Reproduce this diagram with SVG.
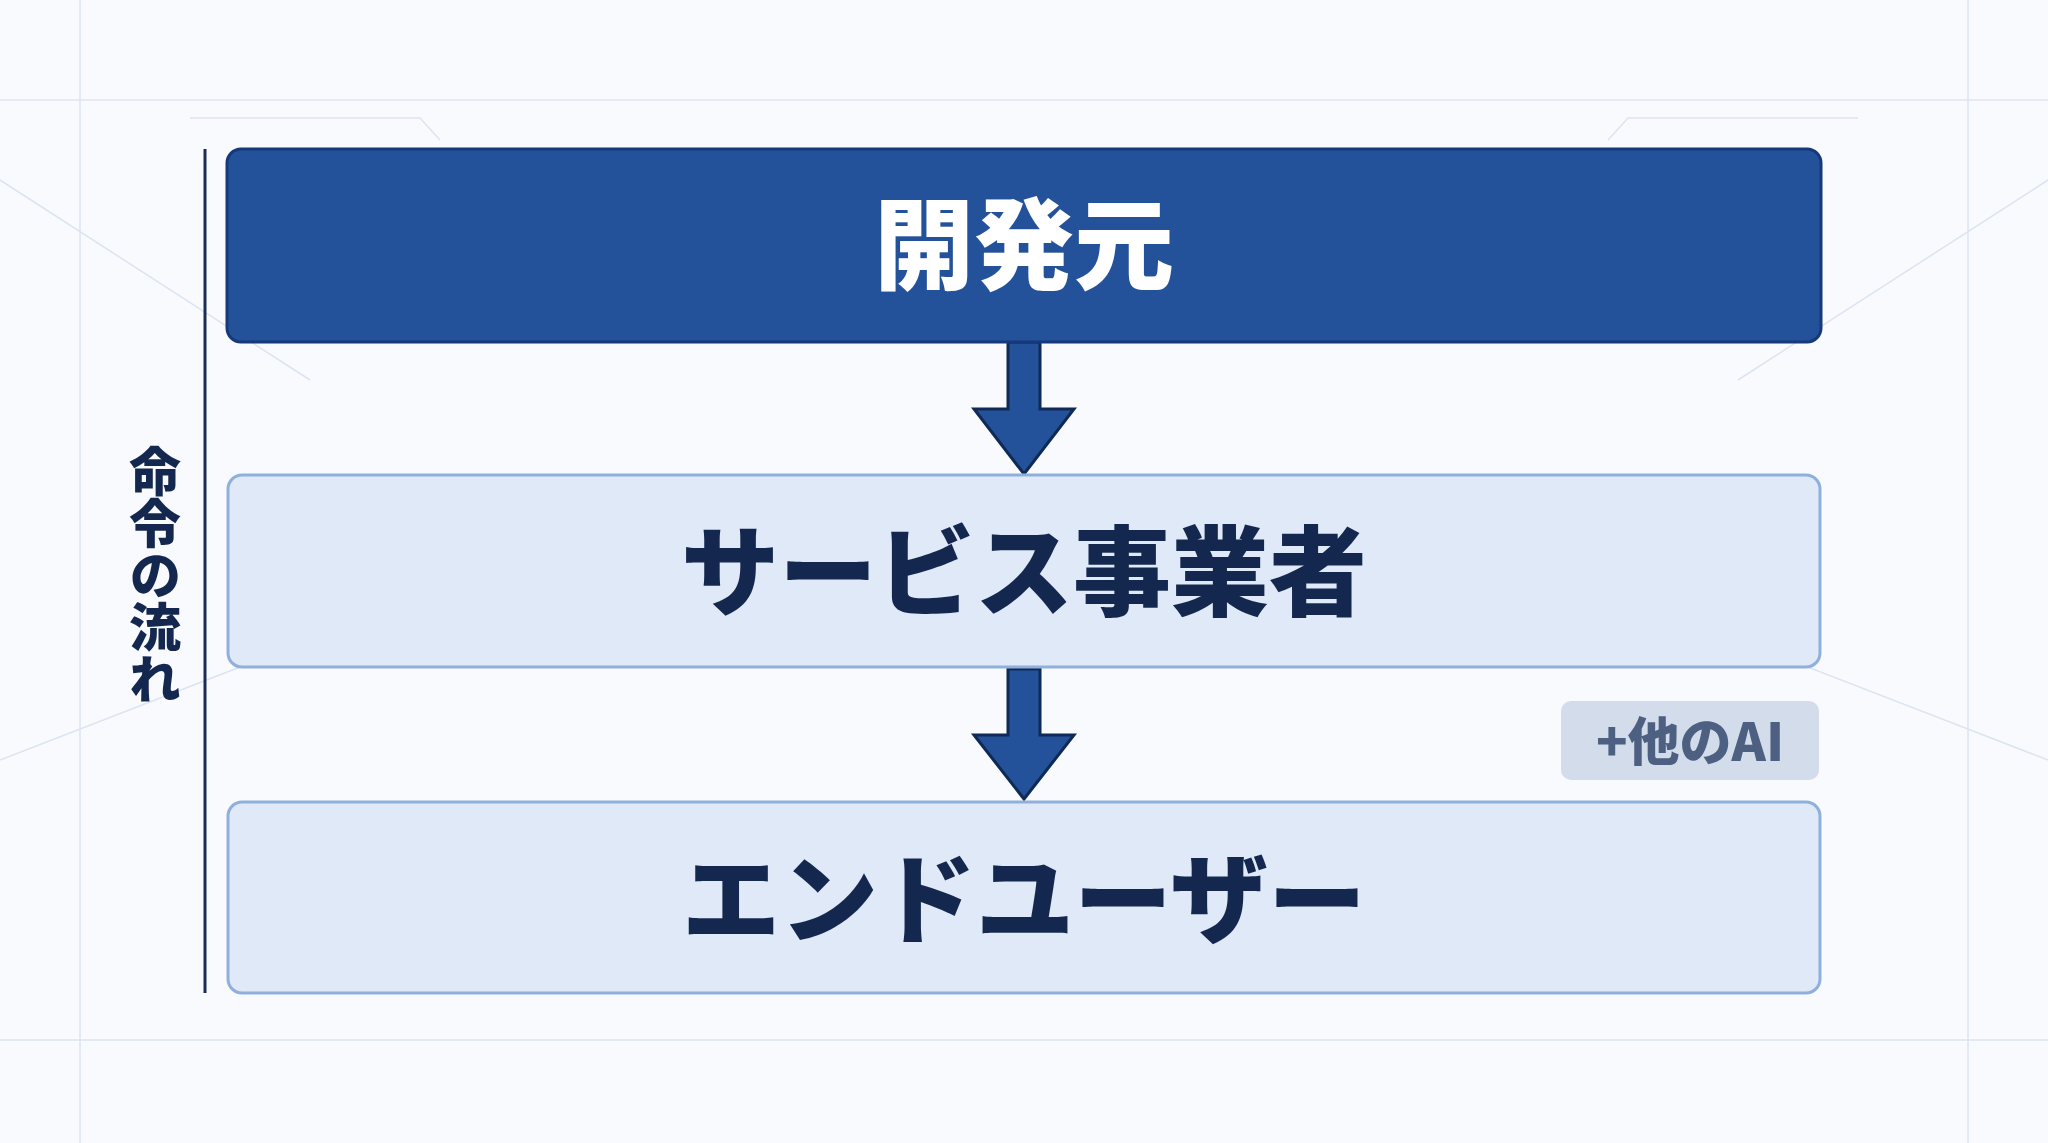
<svg xmlns="http://www.w3.org/2000/svg" width="2048" height="1143" viewBox="0 0 2048 1143">
<defs>
<style>
.lbl{font-family:"Noto Sans CJK JP","Noto Sans",sans-serif;font-weight:900;text-anchor:middle;dominant-baseline:central}
.lite{fill:#dfe9f7;stroke:#8fb0dc;stroke-width:3}
.arr{fill:#23519a;stroke:#0f2a55;stroke-width:3}
.grid{stroke:#dbe4f2;stroke-width:1.5;fill:none}
</style>
</defs>
<rect width="2048" height="1143" fill="#f8fafd"/>
<g class="grid">
<path d="M0 180 L310 380 M0 760 L310 640 M2048 180 L1738 380 M2048 760 L1738 640 M190 118 L420 118 L440 140 M1858 118 L1628 118 L1608 140 M0 100 H2048 M0 1040 H2048 M80 0 V1143 M1968 0 V1143"/>
</g>
<g id="connectors">
<path class="arr" d="M1008 342 H1040 V409 H1074 L1024 474 L974 409 H1008 Z"/>
<path class="arr" d="M1008 669 H1040 V735 H1074 L1024 799 L974 735 H1008 Z"/>
<line x1="205" y1="149" x2="205" y2="993" stroke="#1a2e55" stroke-width="3"/>
</g>
<g id="n1">
<rect x="227" y="149" width="1594" height="193" rx="14" fill="#23519a" stroke="#17397a" stroke-width="3"/>
<text class="lbl" x="1024" y="238" font-size="100" fill="#ffffff">開発元</text>
</g>
<g id="n2">
<rect class="lite" x="228" y="475" width="1592" height="192" rx="14"/>
<text class="lbl" x="1024" y="565" font-size="98" fill="#14284f">サービス事業者</text>
</g>
<g id="n3">
<rect class="lite" x="228" y="802" width="1592" height="191" rx="14"/>
<text class="lbl" x="1024" y="892" font-size="98" fill="#14284f">エンドユーザー</text>
</g>
<g id="flow">
<text class="lbl" font-size="52" fill="#14284f" x="155" y="575" style="writing-mode:vertical-rl;dominant-baseline:auto">命令の流れ</text>
</g>
<g id="badge">
<rect x="1561" y="701" width="258" height="79" rx="10" fill="#d3dcea"/>
<text class="lbl" x="1690" y="738" font-size="52" fill="#4e6082">+他のAI</text>
</g>
</svg>
